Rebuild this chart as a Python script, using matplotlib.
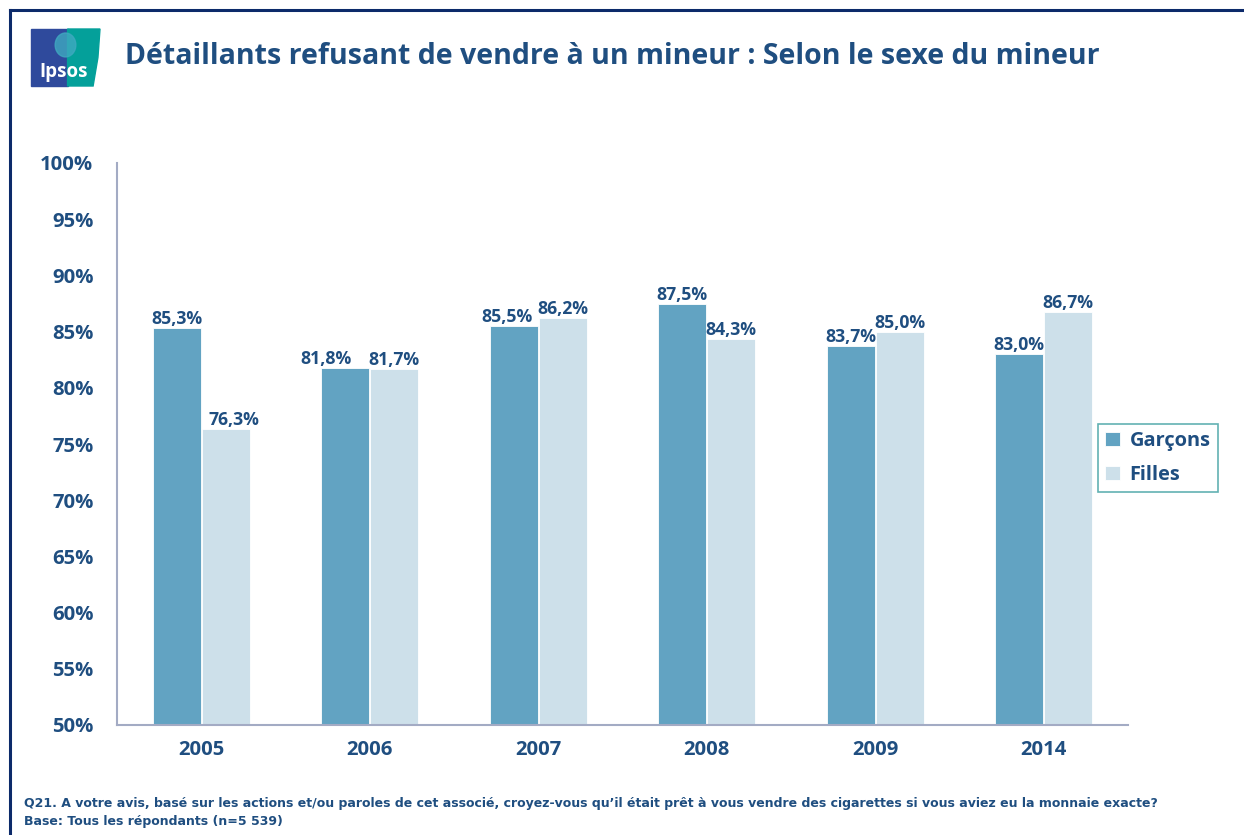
import matplotlib
matplotlib.use("Agg")
import matplotlib.pyplot as plt
from matplotlib.patches import Rectangle, Polygon, Ellipse
from matplotlib.lines import Line2D
import numpy as np

years = ["2005", "2006", "2007", "2008", "2009", "2014"]
garcons = [85.3, 81.8, 85.5, 87.5, 83.7, 83.0]
filles = [76.3, 81.7, 86.2, 84.3, 85.0, 86.7]

# small horizontal nudges of the value labels (points), as in the original
nudge_g = [0, -14, -5, 0, 0, 0]
nudge_f = [6, 0, 0, 0, 0, 0]

navy = "#1f4e80"
c_g = "#62a3c2"
c_f = "#cde0ea"

plt.rcParams['font.family'] = ['Open Sans', 'DejaVu Sans']
plt.rcParams['font.weight'] = 'bold'

fig = plt.figure(figsize=(12.44, 8.35), dpi=100)
ax = fig.add_axes([117/1244, 1-725/835, 1011/1244, 562/835])

x = np.arange(len(years))
w = 0.285
b1 = ax.bar(x - w/2 - 0.003, garcons, w, color=c_g, edgecolor="white", linewidth=0.6, label="Garçons")
b2 = ax.bar(x + w/2 + 0.003, filles, w, color=c_f, edgecolor="white", linewidth=0.6, label="Filles")

for bars, nudges in ((b1, nudge_g), (b2, nudge_f)):
    for r, dx in zip(bars, nudges):
        h = r.get_height()
        ax.annotate(("%.1f%%" % h).replace(".", ","), (r.get_x() + r.get_width()/2, h),
                    xytext=(dx, 0), textcoords="offset points",
                    ha="center", va="bottom", fontsize=12.7, fontweight="bold", color=navy)

ax.set_xlim(-0.5, 5.5)
ax.set_ylim(50, 100)
ax.set_yticks(range(50, 101, 5))
ax.set_yticklabels(["%d%%" % v for v in range(50, 101, 5)])
ax.set_xticks(x)
ax.set_xticklabels(years)
ax.tick_params(axis="both", length=0, labelsize=14.6, labelcolor=navy)
ax.tick_params(axis="y", pad=17)
ax.tick_params(axis="x", pad=11)
for lab in ax.get_xticklabels() + ax.get_yticklabels():
    lab.set_fontweight("bold")
for s in ("top", "right"):
    ax.spines[s].set_visible(False)
for s in ("left", "bottom"):
    ax.spines[s].set_color("#a3abc4")
    ax.spines[s].set_linewidth(1.5)

leg = ax.legend(loc="center left", bbox_to_anchor=(0.970, 0.475), frameon=True,
                fancybox=False, handlelength=0.75, handleheight=0.75,
                handletextpad=0.5, labelspacing=0.7, borderpad=0.35, borderaxespad=0,
                prop={"weight": "bold", "size": 14.4})
leg.get_frame().set_edgecolor("#3a9ea0")
leg.get_frame().set_linewidth(1.2)
for t in leg.get_texts():
    t.set_color(navy)

# frame lines
fig.add_artist(Line2D([10/1244, 1], [1-10/835, 1-10/835], color="#0c2a6a", lw=2.2))
fig.add_artist(Line2D([10/1244, 10/1244], [0, 1-10/835], color="#0c2a6a", lw=2.2))

# logo
lx0, ly0 = 31/1244, 1-86/835
lw_, lh_ = 69/1244, 57/835
fig.add_artist(Rectangle((lx0, ly0), lw_*0.53, lh_, transform=fig.transFigure, color="#2f4a9c"))
fig.add_artist(Polygon([(lx0 + lw_*0.53, ly0), (lx0 + lw_*0.9, ly0), (lx0 + lw_*0.97, ly0 + lh_*0.5),
                        (lx0 + lw_, ly0 + lh_), (lx0 + lw_*0.53, ly0 + lh_)], closed=True,
                       transform=fig.transFigure, color="#04a09a"))
fig.add_artist(Ellipse((lx0 + lw_*0.5, ly0 + lh_*0.72), lw_*0.3, lh_*0.42,
                       transform=fig.transFigure, color="#3fa9c0", alpha=0.8))
fig.text(lx0 + lw_*0.47, ly0 + lh_*0.24, "Ipsos", color="white", fontsize=13.5,
         fontweight="bold", ha="center", va="center")

fig.text(125/1244, 1-57/835, "Détaillants refusant de vendre à un mineur : Selon le sexe du mineur",
         fontsize=20.5, fontweight="bold", color=navy, va="center")

foot_fam = ['Liberation Sans Narrow', 'DejaVu Sans Condensed', 'DejaVu Sans']
fig.text(24/1244, 1-803/835,
         "Q21. A votre avis, basé sur les actions et/ou paroles de cet associé, croyez-vous qu\u2019il était prêt à vous vendre des cigarettes si vous aviez eu la monnaie exacte?",
         fontsize=9.0, fontweight="bold", color=navy, va="center", family=foot_fam)
fig.text(24/1244, 1-822/835, "Base: Tous les répondants (n=5 539)",
         fontsize=9.0, fontweight="bold", color=navy, va="center", family=foot_fam)

fig.savefig("out.png", dpi=100)
